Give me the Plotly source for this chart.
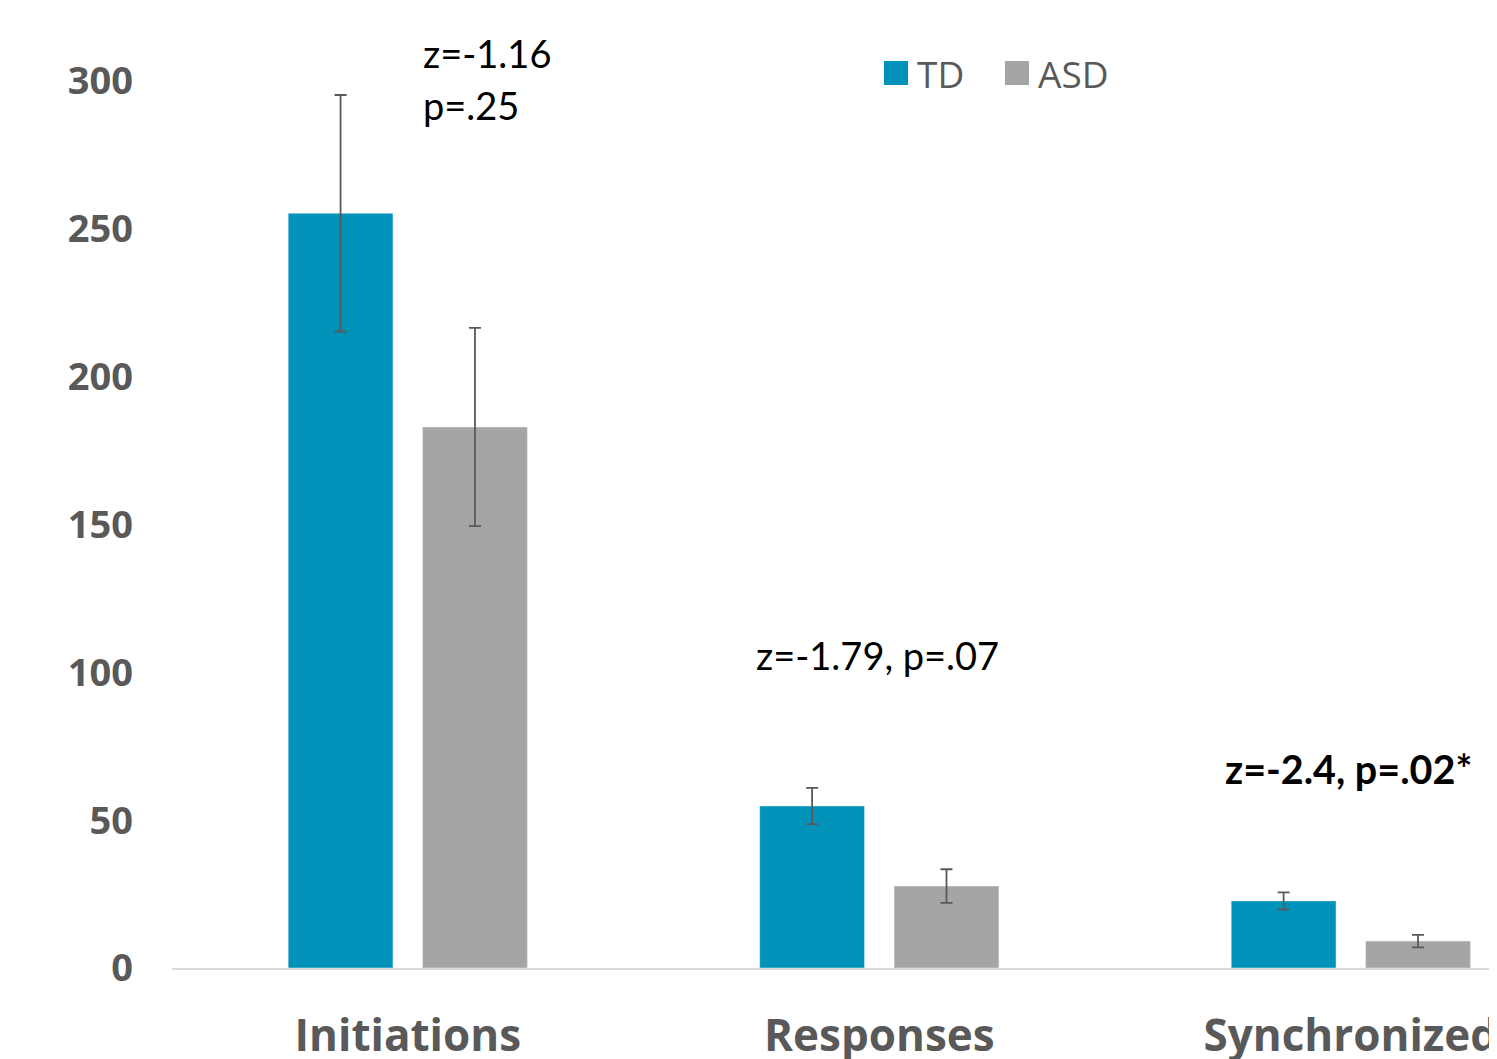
import plotly.graph_objects as go

categories = ["Initiations", "Responses", "Synchronized"]
td_values = [255.3, 54.8, 22.7]
td_err = [40.0, 6.1, 2.9]
asd_values = [183.0, 27.7, 9.1]
asd_err = [33.5, 5.7, 2.1]
y_ticks = [0, 50, 100, 150, 200, 250, 300]

TD_COLOR = "#0092B9"
ASD_COLOR = "#A5A5A5"
GRAY = "#595959"

fig = go.Figure()
fig.add_trace(go.Bar(
    name="TD", x=categories, y=td_values, marker_color=TD_COLOR,
    error_y=dict(type="data", array=td_err, color=GRAY, thickness=1.8, width=6),
    showlegend=False,
))
fig.add_trace(go.Bar(
    name="ASD", x=categories, y=asd_values, marker_color=ASD_COLOR,
    error_y=dict(type="data", array=asd_err, color=GRAY, thickness=1.8, width=6),
    showlegend=False,
))

ann_font = dict(family="Lato", size=38, color="black")
annotations = [
    dict(x=0.028, y=309.4, text="z=-1.16", xanchor="left", yanchor="middle", font=ann_font),
    dict(x=0.028, y=291.8, text="p=.25", xanchor="left", yanchor="middle", font=ann_font),
    dict(x=0.996, y=105.9, text="z=-1.79, p=.07", xanchor="center", yanchor="middle", font=ann_font),
    dict(x=1.995, y=67.6, text="<b>z=-2.4, p=.02*</b>", xanchor="center", yanchor="middle",
         font=dict(family="Lato", size=39.5, color="black")),
]
for a in annotations:
    fig.add_annotation(xref="x", yref="y", showarrow=False, **a)

# manual legend (page is offset by 8px body margin)
L, T_AX, PW, PH = 164, 960, 1325, 946
legend_items = [("TD", TD_COLOR, 884), ("ASD", ASD_COLOR, 1005)]
for name, color, px in legend_items:
    px -= 8
    x0 = (px - L) / PW
    x1 = (px + 24 - L) / PW
    fig.add_shape(type="rect", xref="paper", yref="paper",
                  x0=x0, x1=x1, y0=(T_AX - 77) / PH, y1=(T_AX - 53) / PH,
                  fillcolor=color, line=dict(width=0))
    fig.add_annotation(xref="paper", yref="paper", x=(px + 31 - L) / PW, y=(T_AX - 65) / PH,
                       text=name, showarrow=False, xanchor="left", yanchor="middle",
                       font=dict(family="Open Sans", size=37, color=GRAY))

fig.update_layout(
    width=1489, height=1051,
    margin=dict(l=164, r=0, t=14, b=91),
    paper_bgcolor="white", plot_bgcolor="white",
    barmode="group", bargap=0.43, bargroupgap=0.22,
    xaxis=dict(range=[-0.5, 2.31], showline=True, linecolor="#D9D9D9", linewidth=2,
               showgrid=False, zeroline=False, ticks="", automargin=False,
               tickfont=dict(family="Open Sans", size=44, color=GRAY, weight="bold"),
               ticklabelstandoff=28),
    yaxis=dict(range=[0, 320], tickvals=y_ticks, showgrid=False, zeroline=False,
               showline=False, ticks="", automargin=False,
               tickfont=dict(family="Open Sans", size=38, color=GRAY, weight="bold"),
               ticklabelstandoff=38),
)

fig.write_html("out.html")
